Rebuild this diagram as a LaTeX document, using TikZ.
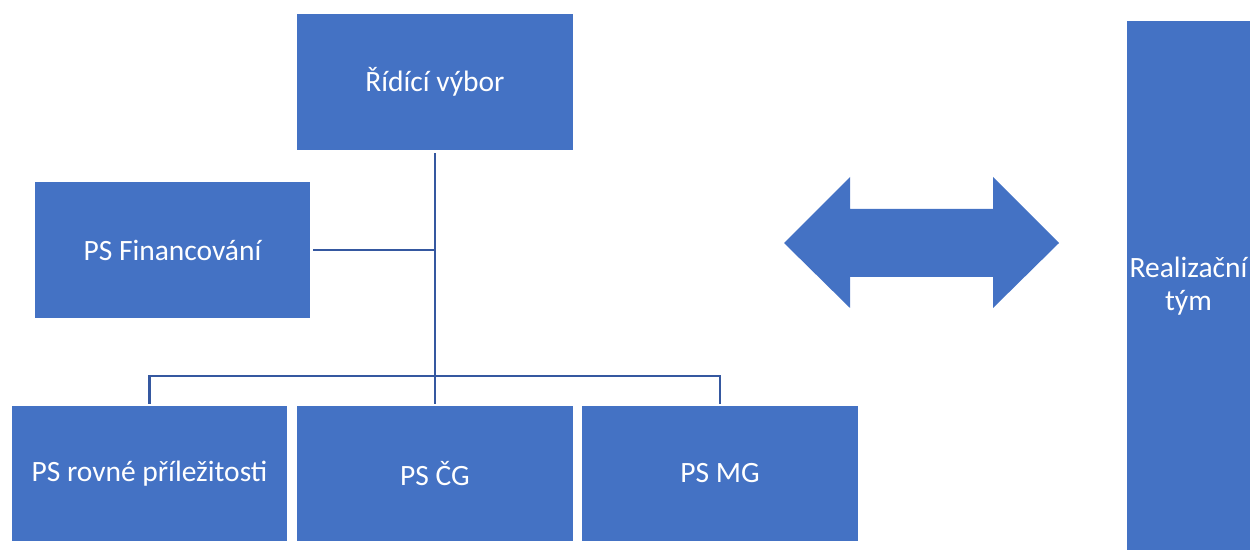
\documentclass[tikz,border=0pt]{standalone}
\usepackage{fontspec}
\setmainfont{Carlito}
\definecolor{boxblue}{HTML}{4472C4}
\definecolor{lineblue}{HTML}{3558A0}
\begin{document}
\begin{tikzpicture}[x=1pt,y=1pt,
  box/.style={fill=boxblue,draw=none,text=white,font=\fontsize{29.5}{33}\selectfont,inner sep=0pt,align=center},
  conn/.style={draw=lineblue,line width=2.8pt}]
\useasboundingbox (0,0) rectangle (1252,549);
\node[box,minimum width=276,minimum height=136] (top) at (435,467) {Řídící výbor};
\node[box,minimum width=275,minimum height=136] (fin) at (172.5,299) {PS Financování};
\node[box,minimum width=275,minimum height=135] (b1) at (149.5,75.5) {PS rovné příležitosti};
\node[box,minimum width=276,minimum height=135] (b2) at (435,75.5) {PS ČG};
\node[box,minimum width=276,minimum height=135] (b3) at (720,75.5) {PS MG};
\node[box,minimum width=123,minimum height=530] (real) at (1188.5,263) {Realizační\\tým};
\coordinate (bus) at (435,173);
\draw[conn,shorten <=3pt] (top.south) -- (bus);
\draw[conn,shorten <=3pt] (fin.east) -- (fin.east -| top.south);
\draw[conn,shorten <=2pt,shorten >=2pt] (b1.north) |- (bus) -| (b3.north);
\draw[conn,shorten >=2pt] (bus) -- (b2.north);
\fill[boxblue] (784,306) -- (850,372) -- (850,340) -- (993,340) -- (993,372) -- (1059,306)
  -- (993,241) -- (993,272) -- (850,272) -- (850,241) -- cycle;
\end{tikzpicture}
\end{document}
